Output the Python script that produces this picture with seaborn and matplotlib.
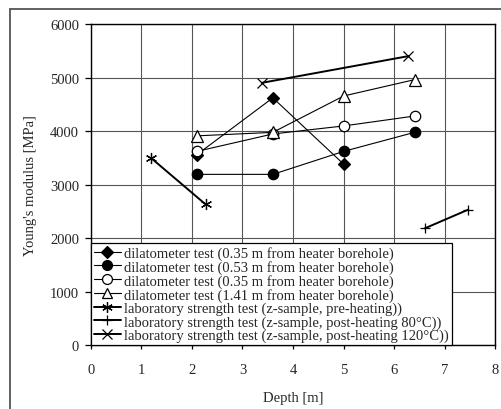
import matplotlib
matplotlib.use("Agg")
import matplotlib.pyplot as plt
import seaborn as sns
import pandas as pd
from matplotlib.lines import Line2D

sns.set_theme(style="white")
plt.rcParams['font.family'] = ['Liberation Serif', 'DejaVu Serif']

# ---- data ----
dil035a_x = [2.1, 3.6, 5.0]
dil035a_y = [3560, 4620, 3380]
dil053_x = [2.1, 3.6, 5.0, 6.4]
dil053_y = [3190, 3190, 3620, 3975]
dil035b_x = [2.1, 3.6, 5.0, 6.4]
dil035b_y = [3620, 3945, 4095, 4280]
dil141_x = [2.1, 3.6, 5.0, 6.4]
dil141_y = [3910, 3975, 4655, 4960]
lab_pre_x = [1.2, 2.27]
lab_pre_y = [3490, 2630]
lab_80_x = [6.6, 7.46]
lab_80_y = [2180, 2530]
lab_120_x = [3.38, 6.28]
lab_120_y = [4900, 5400]

labels = [
    "dilatometer test (0.35 m from heater borehole)",
    "dilatometer test (0.53 m from heater borehole)",
    "dilatometer test (0.35 m from heater borehole)",
    "dilatometer test (1.41 m from heater borehole)",
    "laboratory strength test (z-sample, pre-heating))",
    "laboratory strength test (z-sample, post-heating 80°C))",
    "laboratory strength test (z-sample, post-heating 120°C))",
]
x_ticks = [0, 1, 2, 3, 4, 5, 6, 7, 8]
y_ticks = [0, 1000, 2000, 3000, 4000, 5000, 6000]

series = [
    (dil035a_x, dil035a_y, dict(marker='D', ms=6, mfc='black', lw=0.8)),
    (dil053_x, dil053_y, dict(marker='o', ms=7.5, mfc='black', lw=0.8)),
    (dil035b_x, dil035b_y, dict(marker='o', ms=7.5, mfc='white', lw=0.8)),
    (dil141_x, dil141_y, dict(marker='^', ms=8, mfc='white', lw=0.8)),
    (lab_pre_x, lab_pre_y, dict(marker=(6, 2, 0), ms=8, mfc='black', lw=1.4)),
    (lab_80_x, lab_80_y, dict(marker='+', ms=7.5, mfc='black', lw=1.4)),
    (lab_120_x, lab_120_y, dict(marker='x', ms=7.5, mfc='black', lw=1.4)),
]

fig = plt.figure(figsize=(5.02, 4.10), dpi=100)
ax = fig.add_axes([0.1807, 0.156, 0.8063, 0.783])

handles = []
for (xs, ys, st), lab in zip(series, labels):
    df = pd.DataFrame({"x": xs, "y": ys})
    sns.lineplot(data=df, x="x", y="y", ax=ax, color='black', lw=st['lw'],
                 marker=st['marker'], markersize=st['ms'],
                 markerfacecolor=st['mfc'], markeredgecolor='black',
                 markeredgewidth=0.9, sort=False, zorder=3)
    handles.append(Line2D([], [], color='black', lw=st['lw'], marker=st['marker'],
                          markersize=st['ms'] * 0.95, markerfacecolor=st['mfc'],
                          markeredgecolor='black', markeredgewidth=0.9))

ax.set_xlim(0, 8)
ax.set_ylim(0, 6000)
ax.set_xticks(x_ticks)
ax.set_yticks(y_ticks)
ax.set_xticklabels([str(t) for t in x_ticks])
ax.set_yticklabels([str(t) for t in y_ticks])
ax.grid(True, color='#555555', lw=0.8)
ax.set_axisbelow(True)
for s in ax.spines.values():
    s.set_color('black')
    s.set_linewidth(1.0)
ax.tick_params(axis='y', direction='out', length=4, width=0.9, color='black',
               left=True, pad=4.5, labelsize=10.5)
ax.tick_params(axis='x', direction='out', length=3, width=0.9, color='black',
               bottom=True, pad=10, labelsize=10.5)
ax.set_xlabel("Depth [m]", fontsize=10.5, labelpad=11)
ax.set_ylabel("Young's modulus [MPa]", fontsize=10.5, labelpad=9)

leg = ax.legend(handles, labels, loc='lower left', bbox_to_anchor=(0, 0),
                fontsize=10.5, frameon=True, fancybox=False, framealpha=1,
                edgecolor='black', borderpad=0.2, labelspacing=0.0,
                handlelength=1.9, handletextpad=0.2, borderaxespad=0)
leg.get_frame().set_linewidth(0.9)
leg.set_zorder(5)

# outer frame (top and left edges visible)
fig.add_artist(Line2D([0.02, 1.0], [1 - 10 / 410, 1 - 10 / 410],
                      transform=fig.transFigure, color='#555555', lw=1.3))
fig.add_artist(Line2D([0.02, 0.02], [0.0, 1 - 10 / 410],
                      transform=fig.transFigure, color='#555555', lw=1.3))

fig.savefig("out.png", dpi=100)
